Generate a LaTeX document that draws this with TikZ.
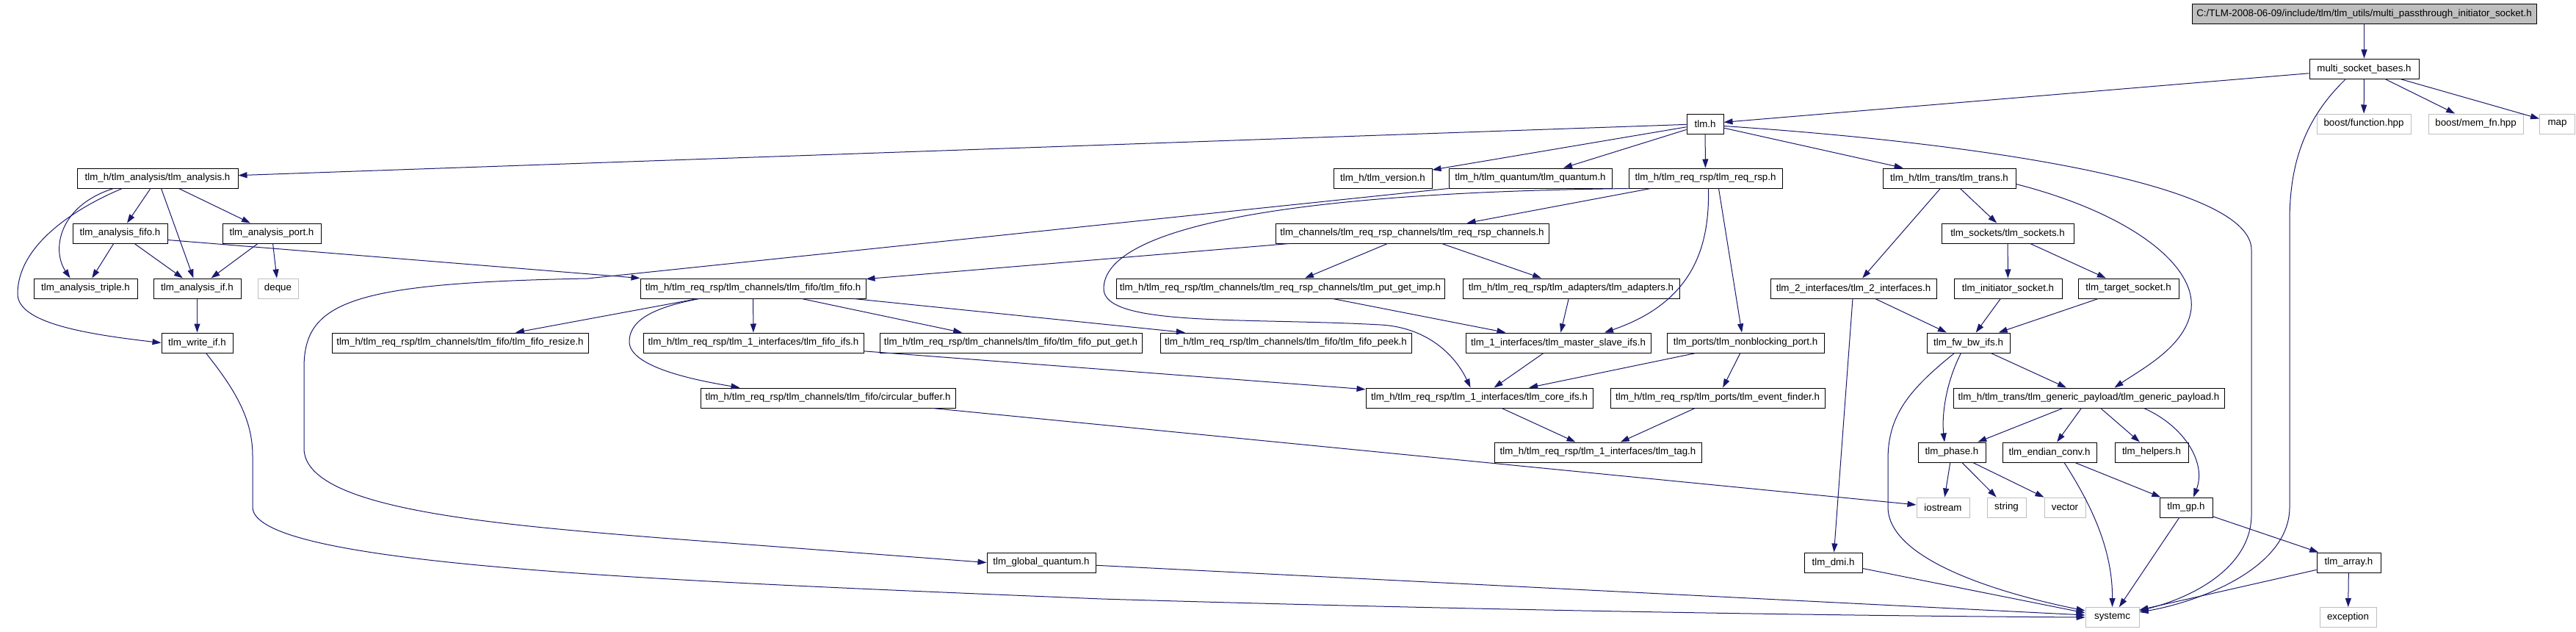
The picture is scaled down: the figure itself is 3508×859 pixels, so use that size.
\documentclass[tikz,border=0pt]{standalone}
\usepackage{fontspec}
\setmainfont{Liberation Sans}
\usetikzlibrary{arrows.meta}
\definecolor{navyedge}{RGB}{25,25,112}
\definecolor{extgray}{RGB}{191,191,191}
\definecolor{rootgray}{RGB}{191,191,191}
\newcommand\dotfnt{\fontsize{13.33}{16}\selectfont}
\tikzset{
  incbox/.style={draw=black, line width=1pt, fill=white, minimum height=27pt, inner sep=0pt, font=\dotfnt, text=black},
  extbox/.style={incbox, draw=extgray},
  conn/.style={draw=navyedge, line width=1pt, -{Triangle[length=12pt,width=8pt]}}
}
\begin{document}
\begin{tikzpicture}[x=1pt,y=-1pt]
\useasboundingbox (0,0) rectangle (3508,859);
\fill[white] (0,0) rectangle (3508,859);
% rank 0-2
\node[incbox,minimum width=469pt,fill=rootgray] (root) at (3219.5,19) {C:/TLM-2008-06-09/include/tlm/tlm\_utils/multi\_passthrough\_initiator\_socket.h};
\node[incbox,minimum width=149pt] (msb) at (3219.5,93.5) {multi\_socket\_bases.h};
\node[incbox,minimum width=50pt] (tlmh) at (2322,168.5) {tlm.h};
\node[extbox,minimum width=128pt] (bfunc) at (3219,168.5) {boost/function.hpp};
\node[extbox,minimum width=129pt] (bmem) at (3371.5,168.5) {boost/mem\_fn.hpp};
\node[extbox,minimum width=48pt] (map) at (3482.5,168.5) {map};
% rank 3
\node[incbox,minimum width=219pt] (analysis) at (214.5,242.5) {tlm\_h/tlm\_analysis/tlm\_analysis.h};
\node[incbox,minimum width=134pt] (version) at (1883,242.5) {tlm\_h/tlm\_version.h};
\node[incbox,minimum width=222pt] (quantum) at (2084,242.5) {tlm\_h/tlm\_quantum/tlm\_quantum.h};
\node[incbox,minimum width=209pt] (reqrsp) at (2322.5,242.5) {tlm\_h/tlm\_req\_rsp/tlm\_req\_rsp.h};
\node[incbox,minimum width=181pt] (trans) at (2654.5,242.5) {tlm\_h/tlm\_trans/tlm\_trans.h};
% rank 4
\node[incbox,minimum width=129pt] (afifo) at (163.5,317.5) {tlm\_analysis\_fifo.h};
\node[incbox,minimum width=134pt] (aport) at (370,317.5) {tlm\_analysis\_port.h};
\node[incbox,minimum width=372pt] (rrchan) at (1923,317.5) {tlm\_channels/tlm\_req\_rsp\_channels/tlm\_req\_rsp\_channels.h};
\node[incbox,minimum width=180pt] (sockets) at (2734,317.5) {tlm\_sockets/tlm\_sockets.h};
% rank 5
\node[incbox,minimum width=141pt] (triple) at (116.5,392.5) {tlm\_analysis\_triple.h};
\node[incbox,minimum width=119pt] (aif) at (268.5,392.5) {tlm\_analysis\_if.h};
\node[extbox,minimum width=55pt] (deque) at (378.5,392.5) {deque};
\node[incbox,minimum width=307pt] (fifo) at (1025.5,392.5) {tlm\_h/tlm\_req\_rsp/tlm\_channels/tlm\_fifo/tlm\_fifo.h};
\node[incbox,minimum width=447pt] (putgetimp) at (1743.5,392.5) {tlm\_h/tlm\_req\_rsp/tlm\_channels/tlm\_req\_rsp\_channels/tlm\_put\_get\_imp.h};
\node[incbox,minimum width=295pt] (adapters) at (2139.5,392.5) {tlm\_h/tlm\_req\_rsp/tlm\_adapters/tlm\_adapters.h};
\node[incbox,minimum width=226pt] (tlm2if) at (2524,392.5) {tlm\_2\_interfaces/tlm\_2\_interfaces.h};
\node[incbox,minimum width=147pt] (initsock) at (2734.5,392.5) {tlm\_initiator\_socket.h};
\node[incbox,minimum width=137pt] (tgtsock) at (2898.5,392.5) {tlm\_target\_socket.h};
% rank 6
\node[incbox,minimum width=97pt] (writeif) at (268.5,466.5) {tlm\_write\_if.h};
\node[incbox,minimum width=349pt] (resize) at (626.5,466.5) {tlm\_h/tlm\_req\_rsp/tlm\_channels/tlm\_fifo/tlm\_fifo\_resize.h};
\node[incbox,minimum width=300pt] (fifoifs) at (1026,466.5) {tlm\_h/tlm\_req\_rsp/tlm\_1\_interfaces/tlm\_fifo\_ifs.h};
\node[incbox,minimum width=357pt] (putget) at (1376.5,466.5) {tlm\_h/tlm\_req\_rsp/tlm\_channels/tlm\_fifo/tlm\_fifo\_put\_get.h};
\node[incbox,minimum width=342pt] (peek) at (1751,466.5) {tlm\_h/tlm\_req\_rsp/tlm\_channels/tlm\_fifo/tlm\_fifo\_peek.h};
\node[incbox,minimum width=252pt] (masterslave) at (2122,466.5) {tlm\_1\_interfaces/tlm\_master\_slave\_ifs.h};
\node[incbox,minimum width=214pt] (nbport) at (2377,466.5) {tlm\_ports/tlm\_nonblocking\_port.h};
\node[incbox,minimum width=113pt] (fwbw) at (2680.5,466.5) {tlm\_fw\_bw\_ifs.h};
% rank 7
\node[incbox,minimum width=347pt] (circbuf) at (1127.5,541.5) {tlm\_h/tlm\_req\_rsp/tlm\_channels/tlm\_fifo/circular\_buffer.h};
\node[incbox,minimum width=309pt] (coreifs) at (2014.5,541.5) {tlm\_h/tlm\_req\_rsp/tlm\_1\_interfaces/tlm\_core\_ifs.h};
\node[incbox,minimum width=292pt] (evfinder) at (2339,541.5) {tlm\_h/tlm\_req\_rsp/tlm\_ports/tlm\_event\_finder.h};
\node[incbox,minimum width=369pt] (gp) at (2844.5,541.5) {tlm\_h/tlm\_trans/tlm\_generic\_payload/tlm\_generic\_payload.h};
% rank 8
\node[incbox,minimum width=282pt] (tag) at (2176,615.5) {tlm\_h/tlm\_req\_rsp/tlm\_1\_interfaces/tlm\_tag.h};
\node[incbox,minimum width=92pt] (phase) at (2658,615.5) {tlm\_phase.h};
\node[incbox,minimum width=128pt] (endian) at (2791,615.5) {tlm\_endian\_conv.h};
\node[incbox,minimum width=100pt] (helpers) at (2930,615.5) {tlm\_helpers.h};
% rank 9
\node[extbox,minimum width=72pt] (iostream) at (2646,690.5) {iostream};
\node[extbox,minimum width=53pt] (string) at (2732.5,690.5) {string};
\node[extbox,minimum width=56pt] (vector) at (2812,690.5) {vector};
\node[incbox,minimum width=72pt] (tlmgp) at (2977,690.5) {tlm\_gp.h};
% rank 10
\node[incbox,minimum width=148pt] (gquantum) at (1418,765.5) {tlm\_global\_quantum.h};
\node[incbox,minimum width=79pt] (dmi) at (2496.5,765.5) {tlm\_dmi.h};
\node[incbox,minimum width=87pt] (array) at (3198.5,765.5) {tlm\_array.h};
% rank 11
\node[extbox,minimum width=73pt] (systemc) at (2876.5,840) {systemc};
\node[extbox,minimum width=77pt] (exception) at (3197.5,840) {exception};

% edges
\draw[conn] (root) -- (msb);
\draw[conn] (msb) -- (tlmh);
\draw[conn] (msb) -- (bfunc);
\draw[conn] (msb) -- (bmem);
\draw[conn] (msb) -- (map);
\draw[conn] ([xshift=-25pt]msb.south) .. controls (3140,160) and (3118,220) .. (3118,300) -- (3118,690) .. controls (3118,775) and (2990,820) .. ([yshift=7pt]systemc.east);
\draw[conn] (tlmh) -- (analysis);
\draw[conn] (tlmh) -- (version);
\draw[conn] (tlmh) -- (quantum);
\draw[conn] (tlmh) -- (reqrsp);
\draw[conn] (tlmh) -- (trans);
\draw[conn] ([yshift=-3pt]tlmh.east) .. controls (2700,195) and (3066,250) .. (3066,340) -- (3066,700) .. controls (3066,770) and (2990,812) .. ([yshift=9pt]systemc.east);
\draw[conn] (analysis) -- (afifo);
\draw[conn] (analysis) -- (aport);
\draw[conn] (analysis) -- (aif);
\draw[conn] ([xshift=-60pt]analysis.south) .. controls (80,280) and (70,340) .. ([xshift=-21pt]triple.north);
\draw[conn] ([xshift=-48pt]analysis.south) .. controls (110,280) and (24,330) .. (24,400) .. controls (24,440) and (120,455) .. (writeif.west);
\draw[conn] (afifo) -- (triple);
\draw[conn] (afifo) -- (aif);
\draw[conn] ([yshift=-9pt]afifo.east) -- (fifo.north west);
\draw[conn] (aport) -- (aif);
\draw[conn] (aport) -- (deque);
\draw[conn] (aif) -- (writeif);
\draw[conn] ([xshift=12pt]writeif.south) .. controls (320,530) and (344,570) .. (344,620) -- (344,690) .. controls (344,770) and (900,790) .. (1500,815) .. controls (2000,830) and (2500,838) .. (systemc.west);
\draw[conn] (quantum.south west) -- (800,379) .. controls (480,385) and (414,410) .. (414,500) -- (414,610) .. controls (414,690) and (650,712) .. (900,732) -- (gquantum.west);
\draw[conn] (gquantum) -- ([yshift=3pt]systemc.west);
\draw[conn] (reqrsp.south west) .. controls (1750,262) and (1503,310) .. (1503,393) .. controls (1503,445) and (1700,432) .. (1880,442) .. controls (1950,446) and (1985,490) .. ([xshift=-12pt]coreifs.north);
\draw[conn] (reqrsp) -- (rrchan);
\draw[conn] ([xshift=4pt]reqrsp.south) .. controls (2328,330) and (2310,410) .. ([xshift=63pt]masterslave.north);
\draw[conn] ([xshift=18pt]reqrsp.south) -- ([xshift=-5pt]nbport.north);
\draw[conn] (rrchan) -- (fifo);
\draw[conn] (rrchan) -- (putgetimp);
\draw[conn] (rrchan) -- (adapters);
\draw[conn] (putgetimp) -- (masterslave);
\draw[conn] (adapters) -- (masterslave);
\draw[conn] (trans) -- (tlm2if);
\draw[conn] (trans) -- (sockets);
\draw[conn] ([yshift=-8pt]trans.east) .. controls (2900,290) and (2990,360) .. (2984,420) .. controls (2978,470) and (2920,500) .. ([xshift=35pt]gp.north);
\draw[conn] (sockets) -- (initsock);
\draw[conn] (sockets) -- (tgtsock);
\draw[conn] (tlm2if) -- (fwbw);
\draw[conn] (tlm2if) -- (dmi);
\draw[conn] (initsock) -- (fwbw);
\draw[conn] (tgtsock) -- (fwbw);
\draw[conn] (fwbw) -- (gp);
\draw[conn] ([xshift=-10pt]fwbw.south) .. controls (2650,520) and (2644,565) .. ([xshift=-10pt]phase.north);
\draw[conn] ([xshift=-19pt]fwbw.south) .. controls (2600,530) and (2571,565) .. (2571,625) -- (2571,690) .. controls (2571,770) and (2760,815) .. ([yshift=9pt]systemc.west);
\draw[conn] (dmi) -- ([yshift=6pt]systemc.west);
\draw[conn] (gp) -- (phase);
\draw[conn] (gp) -- (endian);
\draw[conn] (gp) -- (helpers);
\draw[conn] ([xshift=75pt]gp.south) .. controls (2975,580) and (3005,630) .. ([xshift=10pt]tlmgp.north);
\draw[conn] (phase) -- (iostream);
\draw[conn] (phase) -- (string);
\draw[conn] (phase) -- (vector);
\draw[conn] (endian) -- (tlmgp);
\draw[conn] ([xshift=20pt]endian.south) .. controls (2850,690) and (2877,750) .. (systemc.north);
\draw[conn] (tlmgp) -- (systemc);
\draw[conn] (tlmgp) -- (array);
\draw[conn] (array) -- ([yshift=10pt]systemc.east);
\draw[conn] (array) -- (exception);
\draw[conn] (circbuf) -- (iostream);
\draw[conn] (fifo) -- (resize);
\draw[conn] (fifo) -- (fifoifs);
\draw[conn] (fifo) -- (putget);
\draw[conn] (fifo) -- (peek);
\draw[conn] ([xshift=-73pt]fifo.south) .. controls (880,420) and (857,440) .. (857,465) .. controls (857,500) and (950,518) .. ([xshift=-120pt]circbuf.north);
\draw[conn] (fifoifs) -- (coreifs);
\draw[conn] (masterslave) -- (coreifs);
\draw[conn] (nbport) -- (coreifs);
\draw[conn] (nbport) -- (evfinder);
\draw[conn] (coreifs) -- (tag);
\draw[conn] (evfinder) -- (tag);
\end{tikzpicture}
\end{document}
